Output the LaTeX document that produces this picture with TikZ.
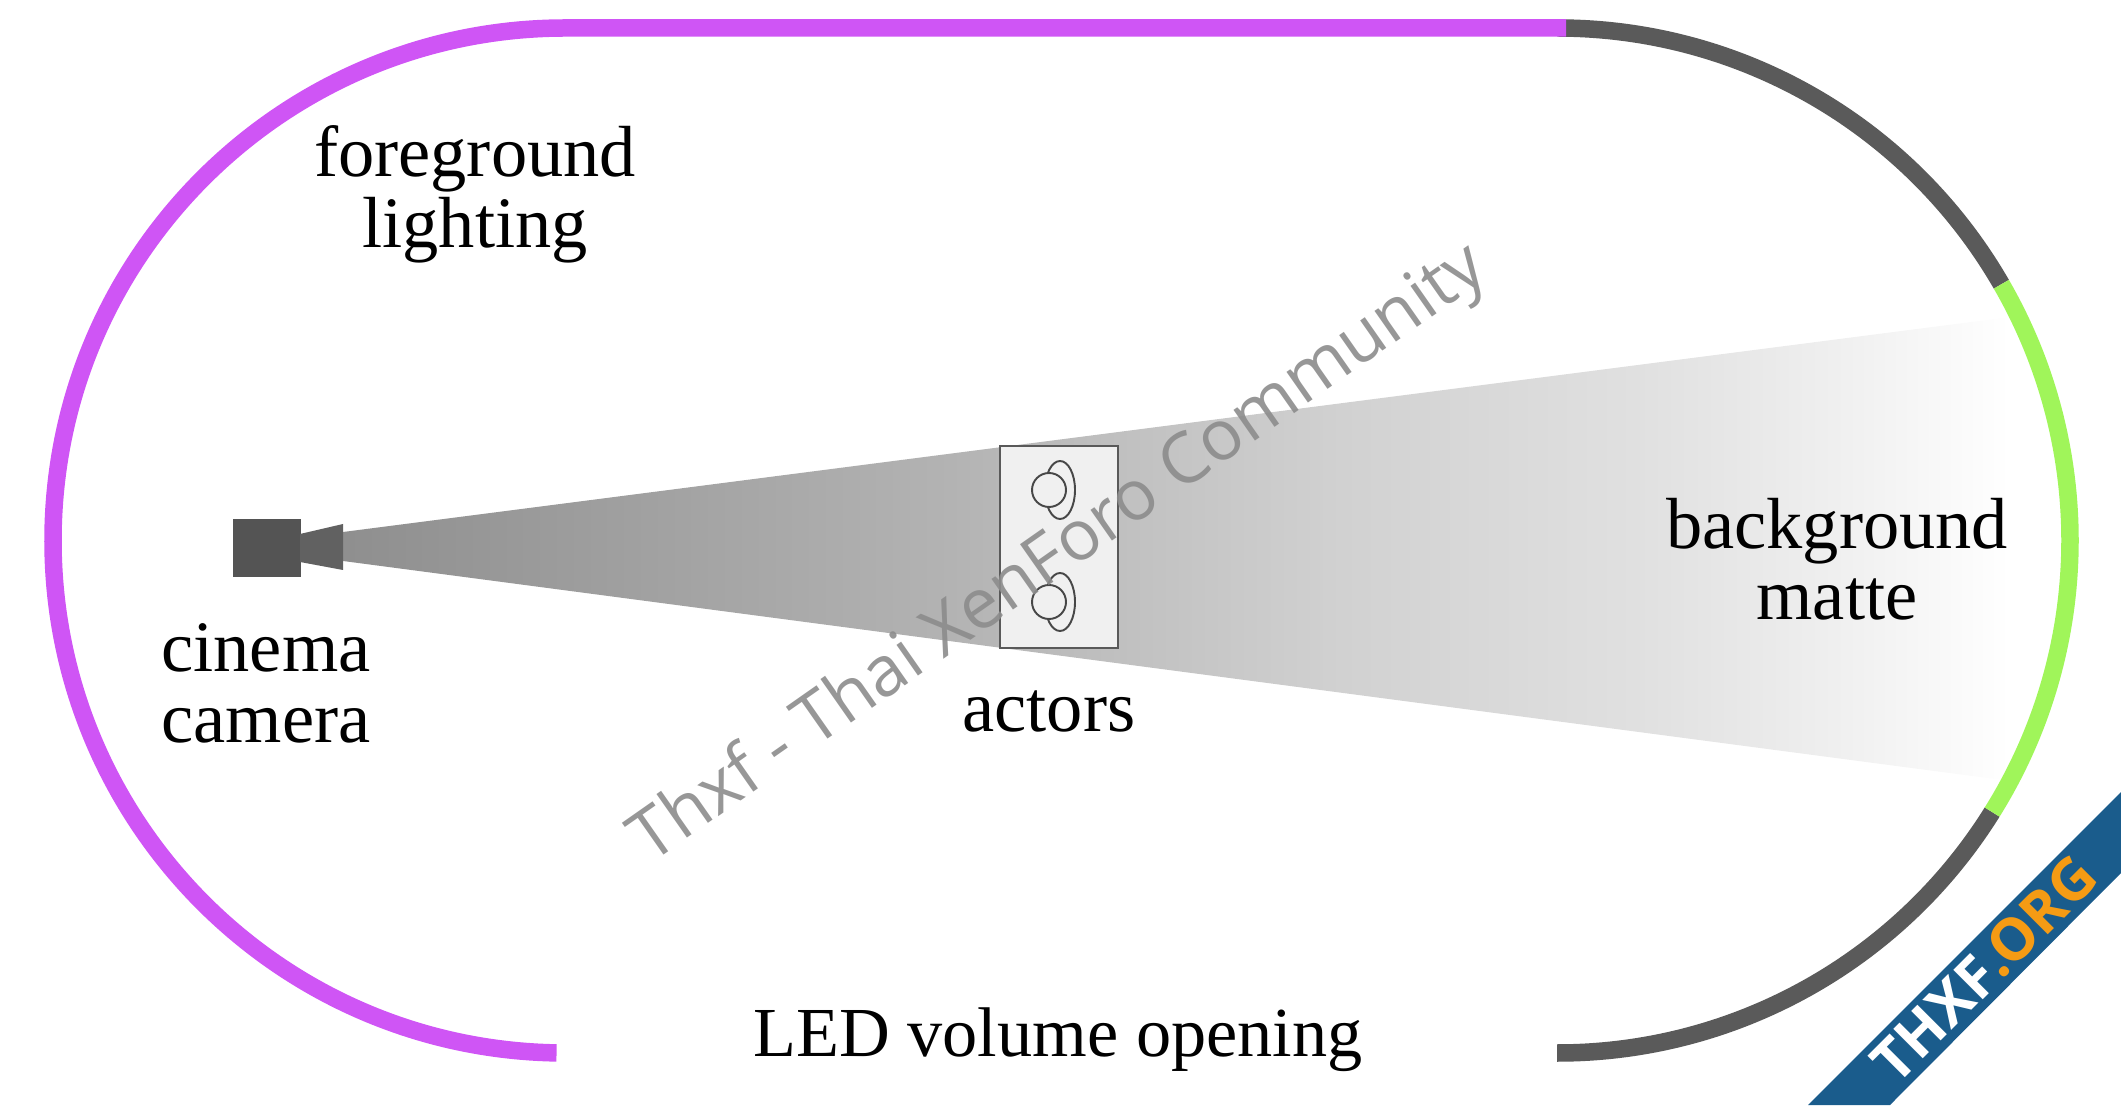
\documentclass[tikz,border=0pt]{standalone}
\usepackage{fontspec}
\setmainfont{Liberation Serif}
\newfontfamily\markfont{Open Sans}
\usetikzlibrary{calc}
\pgfdeclarehorizontalshading{beamfade}{100bp}{
  color(0bp)=(black!44); color(25bp)=(black!44); color(43bp)=(black!30);
  color(55bp)=(black!18); color(64bp)=(black!12); color(70bp)=(black!6);
  color(75bp)=(white); color(100bp)=(white)}
\definecolor{ledpurple}{HTML}{CF55F5}
\definecolor{leddark}{HTML}{5A5A5A}
\definecolor{ledgreen}{HTML}{A0F55A}
\definecolor{ribbonblue}{HTML}{1A5C8C}
\definecolor{ribbonorange}{HTML}{F59B14}

\begin{document}
\begin{tikzpicture}[
  x=1cm,
  y=1cm,
  wall/.style={line width=0.175cm},
  caption/.style={font=\fontsize{20.6}{20.2}\selectfont, align=center, text=black},
  actorline/.style={draw=black!72, line width=0.55pt, fill=black!6},
  rig/.style={fill=black!67, draw=none},
  watermark/.style={font=\markfont\fontsize{19.9}{20}\selectfont, text=black!45, opacity=0.9, rotate=35}
]
\useasboundingbox (0,0) rectangle (21.21,11.05);

\path[shading=beamfade] (3.43,5.73) -- (20.10,7.88) -- (20.10,3.24) -- (3.43,5.44) -- cycle;

\draw[wall, leddark] (15.575,10.77) arc[start angle=90, end angle=30, radius=5.125];
\draw[wall, leddark] (15.57,0.52) -- (15.575,0.52)
  arc[start angle=-90, end angle=-32, radius=5.125];
\draw[wall, ledgreen] ($(15.575,5.645)+(30:5.125)$)
  arc[start angle=30, end angle=-32, radius=5.125];
\draw[wall, ledpurple] ($(5.655,5.645)+(269:5.125)$)
  arc[start angle=269, end angle=90, radius=5.125] -- (15.66,10.77);

\node[rig, minimum width=0.68cm, minimum height=0.58cm, inner sep=0pt, anchor=north west] (body) at (2.32,5.87) {};
\fill[black!62] (3.00,5.71) -- (3.43,5.81) -- (3.43,5.35) -- (3.00,5.43) -- cycle;

\node[draw=black!65, fill=black!6, minimum width=1.18cm, minimum height=2.02cm,
  inner sep=0pt, line width=0.55pt, anchor=north west] (actors) at (9.99,6.60) {};
\foreach \actory in {6.15,5.03} {
  \draw[actorline] (10.60,\actory) ellipse (0.15 and 0.29);
  \draw[actorline] (10.49,\actory) circle (0.17);
}

\node[caption] (lighting) at (4.75,9.11) {foreground\\lighting};
\node[caption] (camera) at (2.66,4.22) {cinema\\camera};
\node[caption] (actortext) at (10.49,3.94) {actors};
\node[caption] (matte) at (18.37,5.46) {background\\matte};
\node[caption, font=\fontsize{20}{20}\selectfont] (opening) at (10.58,0.65) {LED volume opening};

\node[watermark] (community) at (10.60,5.50) {Thxf - Thai XenForo Community};

\fill[ribbonblue] (21.21,3.13) -- (18.08,0) -- (18.90,0) -- (21.21,2.32) -- cycle;
\node[font=\markfont\bfseries\fontsize{16.6}{17}\selectfont, rotate=45, text=white] (ribbon) at (19.84,1.36)
  {THXF\textcolor{ribbonorange}{.ORG}};

\end{tikzpicture}
\end{document}
